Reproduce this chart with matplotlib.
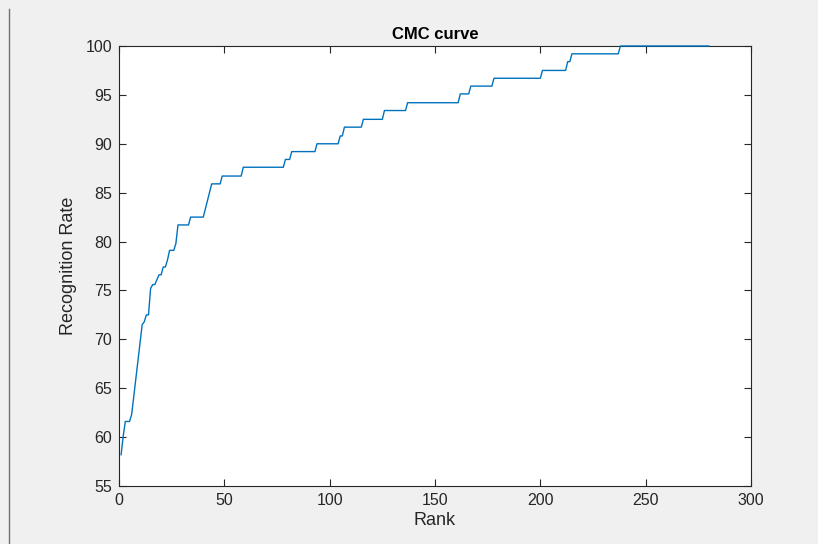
import matplotlib
matplotlib.use("Agg")
import matplotlib.pyplot as plt
from matplotlib.lines import Line2D

# CMC curve vertices (rank, recognition rate %)
rank = [1, 2, 3, 5, 6, 11, 12, 13, 14, 15, 16, 17, 18, 19, 20, 21, 22, 23, 24, 26,
        27, 28, 33, 34, 40, 44, 48, 49, 58, 59, 78, 79, 81, 82, 93, 94, 104, 105,
        106, 107, 115, 116, 125, 126, 136, 137, 161, 162, 166, 167, 177, 178, 200,
        201, 212, 213, 214, 215, 237, 238, 280]
rate = [58.2, 60.1, 61.6, 61.6, 62.3, 71.5, 71.8, 72.5, 72.5, 75.2, 75.6, 75.6, 76.1,
        76.6, 76.6, 77.4, 77.4, 78.1, 79.1, 79.1, 79.8, 81.7, 81.7, 82.5, 82.5, 85.9,
        85.9, 86.7, 86.7, 87.6, 87.6, 88.4, 88.4, 89.2, 89.2, 90.0, 90.0, 90.8, 90.8,
        91.7, 91.7, 92.5, 92.5, 93.4, 93.4, 94.2, 94.2, 95.1, 95.1, 95.9, 95.9, 96.7,
        96.7, 97.5, 97.5, 98.4, 98.4, 99.2, 99.2, 100.0, 100.0]

x_ticks = [0, 50, 100, 150, 200, 250, 300]
y_ticks = [55, 60, 65, 70, 75, 80, 85, 90, 95, 100]

plt.rcParams['font.family'] = ['Liberation Sans', 'DejaVu Sans']
axis_col = '#262626'

fig = plt.figure(figsize=(8.18, 5.44), dpi=100, facecolor='#f0f0f0')
ax = fig.add_axes([119/818, 1 - 486/544, (751 - 119)/818, (486 - 46)/544])
ax.set_facecolor('white')

# MATLAB draws the line over the box, so the 100% plateau stays visible
ax.plot(rank, rate, color='#0072BD', linewidth=1.0, clip_on=False, zorder=3)

ax.set_xlim(0, 300)
ax.set_ylim(55, 100)
ax.set_xticks(x_ticks)
ax.set_yticks(y_ticks)
ax.tick_params(direction='in', length=5, width=0.8, colors=axis_col,
               labelsize=11.5, top=True, right=True, pad=5)
for s in ax.spines.values():
    s.set_color(axis_col)
    s.set_linewidth(0.8)
    s.set_zorder(2)

ax.set_title('CMC curve', fontsize=12, fontweight='bold', color='black', pad=5)
ax.set_xlabel('Rank', fontsize=13, color=axis_col, labelpad=3)
ax.set_ylabel('Recognition Rate', fontsize=13, color=axis_col, labelpad=6)

# edge of the screenshot frame on the left
fig.add_artist(Line2D([9/818, 9/818], [0, 1 - 9/544], transform=fig.transFigure,
                      color='#707070', linewidth=1))

fig.savefig('out.png', dpi=100, facecolor=fig.get_facecolor())
